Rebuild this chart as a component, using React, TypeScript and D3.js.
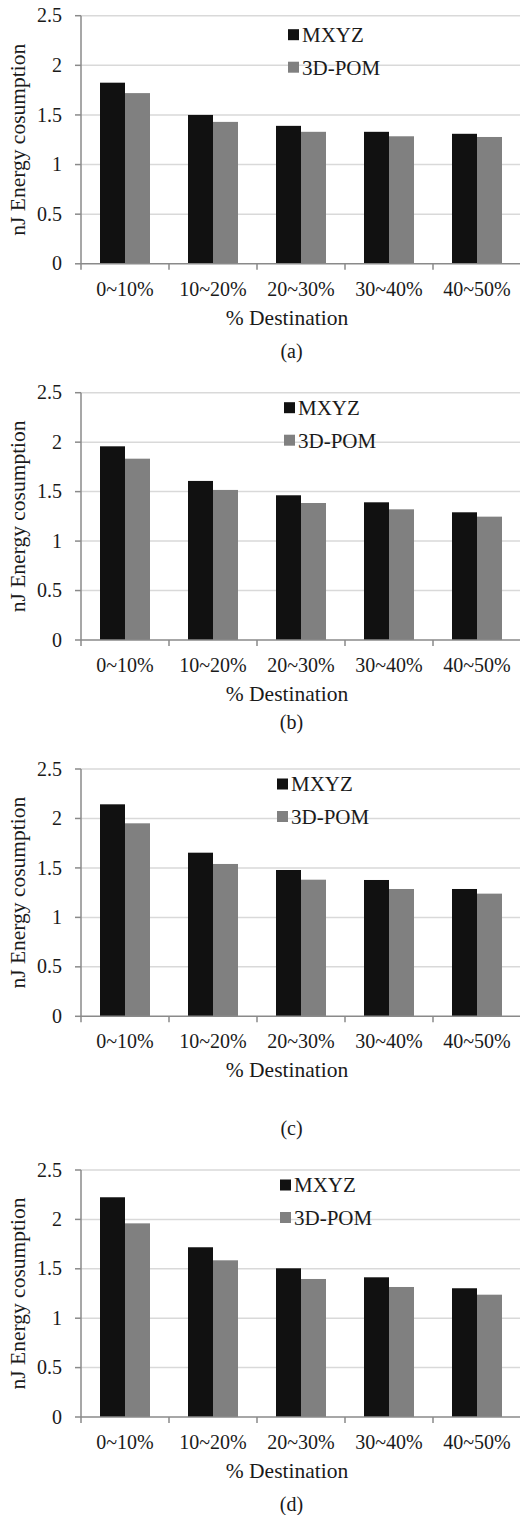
import React from 'react';
import * as d3 from 'd3';

const categories = ['0~10%', '10~20%', '20~30%', '30~40%', '40~50%'];
const seriesNames = ['MXYZ', '3D-POM'];
const yTicks = [0, 0.5, 1, 1.5, 2, 2.5];
const yTickLabels = ['0', '0.5', '1', '1.5', '2', '2.5'];
const panelLabels = ['(a)', '(b)', '(c)', '(d)'];

// nJ energy per panel
const mxyzA = [1.825, 1.5, 1.39, 1.33, 1.31];
const pomA = [1.72, 1.43, 1.33, 1.285, 1.278];
const mxyzB = [1.958, 1.608, 1.463, 1.392, 1.291];
const pomB = [1.833, 1.517, 1.385, 1.321, 1.247];
const mxyzC = [2.143, 1.654, 1.479, 1.378, 1.287];
const pomC = [1.951, 1.54, 1.381, 1.287, 1.24];
const mxyzD = [2.224, 1.718, 1.505, 1.414, 1.303];
const pomD = [1.96, 1.586, 1.397, 1.316, 1.238];

const panelValues = [
  [mxyzA, pomA],
  [mxyzB, pomB],
  [mxyzC, pomC],
  [mxyzD, pomD],
];

// page layout of each panel (plot top/bottom, legend, caption)
const layout = [
  { top: 15.7, bottom: 263.8, legendX: 288, legendY: 19, caption: 88 },
  { top: 392.7, bottom: 640, legendX: 284, legendY: 15, caption: 82 },
  { top: 769, bottom: 1016.3, legendX: 277, legendY: 15, caption: 112 },
  { top: 1170, bottom: 1417, legendX: 280, legendY: 15, caption: 87 },
];

const COLORS = ['#111111', '#808080'];
const FONT = "'Times New Roman', Times, 'Liberation Serif', Tinos, 'DejaVu Serif', serif";
const TEXT = '#1a1a1a';

const App = () => {
  const ref = React.useRef<SVGSVGElement | null>(null);

  React.useEffect(() => {
    const svg = d3.select(ref.current);
    svg.selectAll('*').remove();

    const left = 81;
    const right = 521;

    layout.forEach((L, pi) => {
      const g = svg.append('g').style('font-family', FONT);
      const [s0, s1] = panelValues[pi];

      const y = d3.scaleLinear().domain([0, 2.5]).range([L.bottom, L.top]);
      const x0 = d3.scaleBand().domain(categories).range([left, right]);
      const x1 = d3.scaleBand().domain(seriesNames).range([19, 69]);

      // gridlines
      g.append('g')
        .selectAll('line')
        .data(yTicks.slice(1))
        .join('line')
        .attr('x1', left)
        .attr('x2', 520)
        .attr('y1', (d) => y(d))
        .attr('y2', (d) => y(d))
        .attr('stroke', '#d9d9d9')
        .attr('stroke-width', 1.5);

      // bars
      const rows = categories.map((c, i) => ({ c, vals: [s0[i], s1[i]] }));
      g.append('g')
        .selectAll('g')
        .data(rows)
        .join('g')
        .attr('transform', (d) => `translate(${x0(d.c)},0)`)
        .selectAll('rect')
        .data((d) => d.vals.map((v, k) => ({ v, k })))
        .join('rect')
        .attr('x', (d) => x1(seriesNames[d.k]))
        .attr('width', x1.bandwidth())
        .attr('y', (d) => y(d.v))
        .attr('height', (d) => y(0) - y(d.v))
        .attr('fill', (d) => COLORS[d.k]);

      // y axis
      const axisColor = '#8a8a8a';
      g.append('line')
        .attr('x1', left).attr('x2', left)
        .attr('y1', y(2.5)).attr('y2', y(0))
        .attr('stroke', axisColor).attr('stroke-width', 1.5);
      g.append('g')
        .selectAll('line')
        .data(yTicks)
        .join('line')
        .attr('x1', left - 6).attr('x2', left)
        .attr('y1', (d) => y(d)).attr('y2', (d) => y(d))
        .attr('stroke', axisColor).attr('stroke-width', 1.5);
      g.append('g')
        .selectAll('text')
        .data(yTicks)
        .join('text')
        .attr('x', 62)
        .attr('y', (d) => y(d))
        .attr('dy', '0.33em')
        .attr('text-anchor', 'end')
        .attr('font-size', 20)
        .attr('fill', TEXT)
        .text((d, i) => yTickLabels[i]);

      // x axis
      g.append('line')
        .attr('x1', left).attr('x2', 520)
        .attr('y1', y(0)).attr('y2', y(0))
        .attr('stroke', axisColor).attr('stroke-width', 1.5);
      g.append('g')
        .selectAll('line')
        .data([...categories.map((c) => x0(c) as number), right])
        .join('line')
        .attr('x1', (d) => d).attr('x2', (d) => d)
        .attr('y1', y(0)).attr('y2', y(0) + 6)
        .attr('stroke', axisColor).attr('stroke-width', 1.5);
      g.append('g')
        .selectAll('text')
        .data(categories)
        .join('text')
        .attr('x', (d) => (x0(d) as number) + x0.bandwidth() / 2)
        .attr('y', y(0) + 32)
        .attr('text-anchor', 'middle')
        .attr('font-size', 20)
        .attr('fill', TEXT)
        .text((d) => d);

      // axis titles
      g.append('text')
        .attr('x', 287)
        .attr('y', y(0) + 61)
        .attr('text-anchor', 'middle')
        .attr('font-size', 21.5)
        .attr('fill', TEXT)
        .text('% Destination');
      g.append('text')
        .attr('transform', `translate(25,${(y(0) + y(2.5)) / 2}) rotate(-90)`)
        .attr('text-anchor', 'middle')
        .attr('font-size', 21.5)
        .attr('fill', TEXT)
        .text('nJ Energy cosumption');

      // legend
      const leg = g.append('g')
        .attr('transform', `translate(${L.legendX},${L.top + L.legendY})`);
      const item = leg.selectAll('g')
        .data(seriesNames)
        .join('g')
        .attr('transform', (d, i) => `translate(0,${i * 32.5})`);
      item.append('rect')
        .attr('x', 0).attr('y', -5.5)
        .attr('width', 11).attr('height', 11)
        .attr('fill', (d, i) => COLORS[i]);
      item.append('text')
        .attr('x', 14)
        .attr('y', 0)
        .attr('dy', '0.35em')
        .attr('font-size', 21)
        .attr('fill', TEXT)
        .text((d) => d);

      // caption
      g.append('text')
        .attr('x', 291.5)
        .attr('y', y(0) + L.caption)
        .attr('dy', '0.33em')
        .attr('text-anchor', 'middle')
        .attr('font-size', 20)
        .attr('fill', TEXT)
        .text(panelLabels[pi]);
    });
  }, []);

  return (
    <svg
      ref={ref}
      width={520}
      height={1515}
      style={{ position: 'absolute', left: 0, top: 0, background: '#fff', display: 'block' }}
    />
  );
};

export default App;
